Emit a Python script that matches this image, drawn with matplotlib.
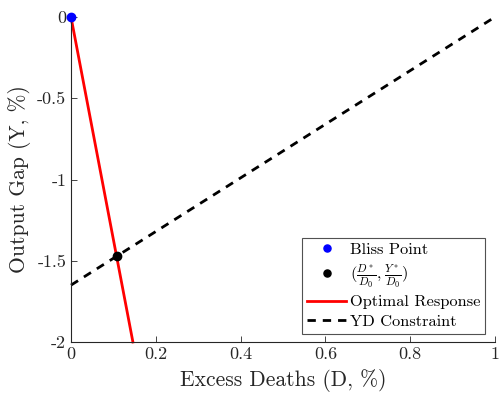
import matplotlib
matplotlib.use("Agg")
import matplotlib.pyplot as plt
import numpy as np

plt.rcParams['font.family'] = ['cmr10', 'DejaVu Serif']
plt.rcParams['mathtext.fontset'] = 'cm'
plt.rcParams['axes.unicode_minus'] = False

# data
bliss_x, bliss_y = [0.0], [0.0]
resp_x = [0.0, 0.146]
resp_y = [0.0, -2.0]
yd_x = [0.0, 1.0]
yd_y = [-1.65, 0.0]
opt_x, opt_y = [0.1075], [-1.473]

xticks = [0, 0.2, 0.4, 0.6, 0.8, 1]
xtick_labels = ['0', '0.2', '0.4', '0.6', '0.8', '1']
yticks = [-2, -1.5, -1, -0.5, 0]
ytick_labels = ['-2', '-1.5', '-1', '-0.5', '0']

fig = plt.figure(figsize=(4.99, 3.94), dpi=100)
ax = fig.add_axes([71/499, 1 - 342/394, 424/499, 325/394])

ax.plot(bliss_x, bliss_y, 'o', color='blue', markersize=6, label='Bliss Point', zorder=5, clip_on=False)
ax.plot(opt_x, opt_y, 'o', color='black', markersize=6,
        label=r'$(\frac{D^*}{D_0},\frac{Y^*}{D_0})$', zorder=5)
ax.plot(resp_x, resp_y, '-', color='red', lw=2, label='Optimal Response', clip_on=False)
ax.plot(yd_x, yd_y, '--', color='black', lw=2, dashes=(3, 2.5), label='YD Constraint', clip_on=False)

ax.set_xlim(0, 1)
ax.set_ylim(-2, 0)
ax.set_xticks(xticks)
ax.set_xticklabels(xtick_labels)
ax.set_yticks(yticks)
ax.set_yticklabels(ytick_labels)
ax.tick_params(direction='in', labelsize=13, length=4, width=0.6, colors='#262626')
for s in ['top', 'right']:
    ax.spines[s].set_visible(False)
for s in ['left', 'bottom']:
    ax.spines[s].set_linewidth(0.8)
    ax.spines[s].set_color('#262626')

ax.set_xlabel('Excess Deaths (D, %)', fontsize=15.5, color='#262626', labelpad=5)
ax.set_ylabel('Output Gap (Y, %)', fontsize=15.5, color='#262626', labelpad=4)

leg = ax.legend(loc='lower right', bbox_to_anchor=(485/499, 1 - 334/394),
                bbox_transform=fig.transFigure, fontsize=11.8, frameon=True,
                fancybox=False, edgecolor='#262626', handlelength=2.4,
                handletextpad=0.2, borderpad=0.3, labelspacing=0.32,
                borderaxespad=0.0, markerscale=0.85)
leg.get_frame().set_linewidth(0.8)

fig.savefig('out.png', dpi=100)
